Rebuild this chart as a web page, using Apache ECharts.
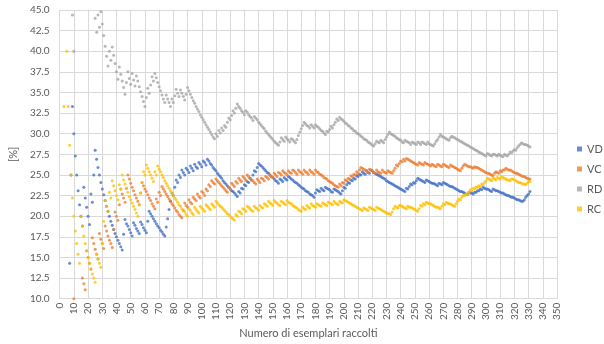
<!DOCTYPE html>
<html><head><meta charset="utf-8">
<script src="https://cdn.jsdelivr.net/npm/echarts@6.0.0/dist/echarts.min.js"></script>
<style>html,body{margin:0;padding:0;background:#fff}#c{width:604px;height:344px}</style>
</head><body><div id="c"></div>
<script>
const seriesNames = ['VD', 'VC', 'RD', 'RC'];
const seriesColors = ['#4472C4', '#ED7D31', '#A5A5A5', '#FFC000'];
const xTicks = {min: 0, max: 350, step: 10};
const yTicks = {min: 10, max: 45, step: 2.5};

const VD = [0,0,0,0,0,0,14.3,25,33.3,30,
27.3,25,23.1,21.4,20,18.8,23.5,22.2,21.1,20,
19,22.7,21.7,25,28,26.9,25.9,25,24.1,23.3,
22.6,21.9,21.2,20.6,20,19.4,18.9,18.4,17.9,17.5,
17.1,16.7,16.3,15.9,17.8,19.6,19.1,18.8,18.4,18,
17.6,19.2,18.9,18.5,18.2,17.9,19.3,19,18.6,18.3,
18,19.4,20.6,20.3,20,19.7,19.4,19.1,18.8,18.6,
18.3,18.1,17.8,17.6,18.7,19.7,20.8,21.8,22.8,22.5,
23.5,24.4,24.1,25,24.7,25.6,25.3,25,25.8,25.6,
25.3,26.1,25.8,25.5,26.3,26,25.8,26.5,26.3,26,
26.7,26.5,26.2,26.9,26.7,26.4,26.2,25.9,25.7,25.5,
25.2,25,24.8,24.6,24.3,24.1,23.9,23.7,23.5,23.3,
23.1,23,22.8,22.6,22.4,23,22.8,23.4,23.3,23.8,
23.7,24.2,24.1,24.6,24.4,25,25.5,25.4,25.9,26.4,
26.2,26.1,25.9,25.7,25.5,25.3,25.2,25,24.8,24.7,
24.5,24.3,24.2,24,24.5,24.4,24.2,24.7,24.5,24.4,
24.8,24.7,24.5,24.4,24.2,24.1,24,23.8,23.7,23.5,
23.4,23.3,23.1,23,22.9,22.7,22.6,22.5,22.3,22.8,
23.2,23.1,23,23.4,23.2,23.1,23.5,23.4,23.3,23.2,
23,22.9,23.3,23.2,23.1,23,22.8,22.7,23.1,23.5,
23.4,23.8,24.1,24,24.4,24.3,24.6,24.5,24.9,24.8,
25.1,25,25.4,25.2,25.1,25.5,25.3,25.2,25.6,25.5,
25.3,25.2,25.1,25,24.9,24.8,24.7,24.6,24.5,24.3,
24.2,24.1,24,23.9,23.8,23.7,23.6,23.5,23.4,23.3,
23.2,23.1,23,23.4,23.3,23.6,23.9,23.8,24.1,24,
24.3,24.6,24.5,24.4,24.3,24.2,24.1,24.4,24.3,24.2,
24.1,24,24,23.9,23.8,23.7,24,23.9,23.8,24.1,
24,23.9,23.8,23.7,23.6,23.6,23.5,23.4,23.3,23.2,
23.1,23,23,22.9,22.8,22.7,22.6,22.9,22.8,22.8,
22.7,22.9,22.9,23.1,23.1,23.3,23.2,23.5,23.4,23.3,
23.3,23.2,23.1,23,23.3,23.2,23.1,23.1,23,22.9,
22.8,22.8,22.7,22.6,22.5,22.5,22.4,22.3,22.3,22.2,
22.1,22,22,21.9,21.8,21.8,22,22.3,22.5,22.7,
23];

const VC = [0,0,0,0,0,0,0,0,0,10,
9.1,8.3,7.7,7.1,6.7,12.5,11.8,11.1,15.8,15,
14.3,13.6,17.4,16.7,16,15.4,14.8,17.9,17.2,16.7,
16.1,18.8,18.2,17.6,17.1,16.7,16.2,18.4,20.5,20,
19.5,21.4,23.3,22.7,22.2,21.7,23.4,25,24.5,24,
23.5,23.1,22.6,22.2,21.8,21.4,22.8,24.1,23.7,23.3,
23,22.6,22.2,21.9,21.5,21.2,20.9,22.1,21.7,22.9,
22.5,23.6,23.3,23,22.7,22.4,22.1,21.8,21.5,21.3,
21,20.7,20.5,20.2,20,19.8,20.7,21.6,21.3,21.1,
22,21.7,21.5,22.3,22.1,21.9,22.7,22.4,22.2,23,
22.8,22.5,23.3,23.1,23.8,23.6,24.3,24.1,23.9,24.5,
24.3,24.1,23.9,23.7,23.5,23.3,23.1,22.9,23.5,23.3,
24,23.8,23.6,24.2,24,24.6,24.4,24.2,24.8,24.6,
24.4,25,24.8,24.6,24.4,24.3,24.1,23.9,24.5,24.3,
24.1,24.6,24.5,24.3,24.8,24.7,24.5,25,24.8,24.7,
25.2,25,24.8,25.3,25.2,25,25.5,25.3,25.2,25,
25.5,25.3,25.2,25.6,25.5,25.3,25.1,25.6,25.4,25.3,
25.1,25.6,25.4,25.3,25.1,25.6,25.4,25.3,25.1,25.6,
25.4,25.3,25.1,25,24.9,24.7,24.6,24.5,24.3,24.2,
24.1,24,23.8,23.7,23.6,23.5,23.9,23.7,24.1,24,
24.4,24.3,24.6,24.5,24.9,24.8,25.1,25,25.4,25.2,
25.6,25.9,25.8,25.7,25.6,25.5,25.3,25.7,25.6,25.5,
25.3,25.2,25.6,25.4,25.3,25.2,25.6,25.4,25.3,25.2,
25.5,25.4,25.3,25.2,25.5,25.8,26.2,26.1,26.4,26.7,
26.6,26.9,26.7,27,26.9,26.8,26.7,26.6,26.5,26.4,
26.3,26.2,26.5,26.4,26.3,26.2,26.5,26.4,26.3,26.2,
26.1,26.3,26.2,26.1,26,26.3,26.2,26.1,26,26.3,
26.2,26.1,26,25.9,26.2,26.1,26,25.9,25.8,25.7,
25.6,25.5,25.8,26.1,26.3,26.2,26.1,26,26,25.9,
25.8,26,25.9,25.9,25.8,25.7,25.6,25.5,25.4,25.3,
25.2,25.2,25.1,25,24.9,25.2,25.4,25.3,25.2,25.5,
25.4,25.6,25.6,25.8,25.7,25.6,25.6,25.5,25.4,25.3,
25.2,25.2,25.1,25,24.9,24.8,24.8,24.7,24.6,24.5,
24.5];

const RD = [100,100,66.7,50,60,66.7,57.1,50,44.4,40,
45.5,50,53.8,57.1,53.3,50,47.1,50,47.4,50,
52.4,50,47.8,45.8,44,42.3,44.4,42.9,44.8,43.3,
41.9,40.6,39.4,38.2,40,38.9,40.5,39.5,38.5,37.5,
36.6,38.1,37.2,36.4,35.6,34.8,36.2,37.5,36.7,36,
37.3,36.5,35.8,37,36.4,35.7,35.1,34.5,33.9,33.3,
34.4,35.5,34.9,35.9,36.9,36.4,37.3,36.8,36.2,35.7,
35.2,34.7,34.2,33.8,34.7,34.2,33.8,33.3,34.2,33.8,
34.6,35.4,34.9,34.5,35.3,34.9,34.5,34.1,34.8,35.6,
35.2,34.8,34.4,34,33.7,33.3,33,32.7,32.3,32,
31.7,31.4,31.1,30.8,30.5,30.2,29.9,29.6,29.4,30,
29.7,30.4,30.1,30.7,30.4,31,30.8,31.4,31.9,31.7,
32.2,32.8,32.5,33.1,33.6,33.3,33.1,32.8,32.6,32.3,
32.8,32.6,32.3,32.1,31.9,31.6,32.1,31.9,31.7,31.4,
31.2,31,30.8,30.6,30.3,30.1,29.9,29.7,29.5,29.3,
29.1,28.9,28.8,28.6,29,29.5,29.3,29.1,29.6,29.4,
29.2,29,29.4,29.3,29.1,28.9,29.3,29.8,30.2,30.6,
31,31.4,31.2,31,30.9,30.7,31.1,30.9,30.7,31.1,
30.9,30.8,30.6,30.4,30.3,30.1,29.9,30.3,30.2,30.5,
30.9,30.7,31.1,31.4,31.8,31.6,32,31.8,31.7,31.5,
31.3,31.2,31,30.9,30.7,30.6,30.4,30.3,30.1,30,
29.9,29.7,29.6,29.4,29.3,29.2,29,28.9,28.8,28.6,
28.5,28.8,29.1,29,28.9,29.2,29.1,28.9,29.3,29.6,
29.9,30.2,30,29.9,29.8,29.7,29.5,29.4,29.3,29.2,
29,28.9,29.2,29.1,29,28.9,28.7,29,28.9,28.8,
28.7,29,28.9,28.7,29,28.9,28.8,28.7,29,28.8,
28.7,28.6,28.5,28.8,29.1,29.3,29.6,29.9,29.7,29.6,
29.5,29.4,29.3,29.2,29.5,29.7,29.6,29.5,29.4,29.3,
29.2,29.1,29,28.9,28.8,28.7,28.6,28.5,28.4,28.3,
28.2,28.1,28,27.9,27.8,27.7,27.6,27.5,27.4,27.3,
27.6,27.5,27.4,27.3,27.5,27.5,27.4,27.3,27.5,27.4,
27.3,27.2,27.5,27.4,27.3,27.5,27.8,27.7,27.9,28.1,
28,28.3,28.5,28.7,28.9,28.8,28.7,28.7,28.6,28.5,
28.4];

const RC = [0,0,33.3,50,40,33.3,28.6,25,22.2,20,
18.2,16.7,15.4,14.3,20,18.8,17.6,16.7,15.8,15,
14.3,13.6,13,12.5,12,15.4,14.8,14.3,13.8,16.7,
19.4,21.9,21.2,20.6,22.9,22.2,24.3,23.7,23.1,22.5,
22,23.8,23.3,25,24.4,23.9,23.4,22.9,22.4,22,
21.6,21.2,20.8,20.4,20,21.4,22.8,24.1,25.4,25,
26.2,25.8,25.4,25,24.6,24.2,25.4,25,26.1,25.7,
25.4,25,24.7,24.3,24,23.7,23.4,23.1,22.8,22.5,
22.2,22,21.7,21.4,21.2,20.9,20.7,20.5,20.2,20,
20.9,20.7,20.4,20.2,21.1,20.8,20.6,20.4,21.2,21,
20.8,20.6,21.4,21.2,21,20.8,21.5,21.3,21.1,21.8,
21.6,21.4,21.2,21.1,20.9,20.7,20.5,20.3,20.2,20,
19.8,19.7,19.5,20.2,20,20.6,20.5,20.3,20.9,20.8,
20.6,21.2,21.1,20.9,20.7,20.6,21.2,21,20.9,20.7,
21.3,21.1,21,21.5,21.4,21.2,21.8,21.6,21.5,21.3,
21.9,21.7,21.6,21.4,21.3,21.8,21.7,21.5,21.4,21.9,
21.7,21.6,21.5,21.3,21.2,21.1,21,20.8,20.7,20.6,
21.1,20.9,20.8,21.3,21.1,21,21.5,21.3,21.2,21.1,
21.5,21.4,21.3,21.2,21.6,21.5,21.4,21.3,21.7,21.6,
21.5,21.4,21.8,21.6,21.5,21.4,21.8,21.7,21.6,22,
21.9,21.8,21.7,21.6,21.5,21.4,21.3,21.2,21.1,21,
20.9,20.8,20.7,21,20.9,20.8,20.7,21.1,21,20.9,
20.8,20.7,21.1,21,20.9,20.8,20.7,20.6,20.5,20.4,
20.3,20.3,20.2,20.5,20.9,21.2,21.1,21,21.3,21.3,
21.2,21.1,21,20.9,21.2,21.1,21.1,21,20.9,20.8,
20.7,20.6,20.9,21.3,21.2,21.5,21.4,21.7,21.6,21.5,
21.5,21.4,21.3,21.2,21.1,21.1,21,20.9,21.2,21.5,
21.4,21.7,21.6,21.5,21.5,21.4,21.3,21.2,21.5,21.8,
22.1,22,22.3,22.5,22.5,22.7,22.6,22.9,23.2,23.1,
23.4,23.3,23.5,23.5,23.7,23.6,23.9,23.8,24.1,24.3,
24.6,24.5,24.4,24.3,24.6,24.5,24.4,24.7,24.6,24.5,
24.8,24.7,24.6,24.5,24.4,24.4,24.3,24.5,24.5,24.4,
24.3,24.2,24.1,24.1,24,23.9,23.9,23.8,24,24.2,
24.2];

const seriesValues = [VD, VC, RD, RC];

const textColor = '#595959';
const gridColor = '#D9D9D9';
const font = 'Lato, "Open Sans", sans-serif';

const chart = echarts.init(document.getElementById('c'), null, {renderer: 'canvas'});
chart.setOption({
  animation: false,
  backgroundColor: '#ffffff',
  textStyle: {fontFamily: font},
  grid: {left: 58, right: 47, top: 10, bottom: 42, containLabel: false},
  legend: {
    orient: 'vertical', left: 572, top: 137,
    icon: 'rect', itemWidth: 5, itemHeight: 5, itemGap: 6,
    textStyle: {fontSize: 11, color: textColor, lineHeight: 14, fontFamily: font},
    data: seriesNames
  },
  xAxis: {
    type: 'value', min: xTicks.min, max: xTicks.max, interval: xTicks.step,
    name: 'Numero di esemplari raccolti', nameLocation: 'middle', nameGap: 24,
    nameTextStyle: {fontSize: 11, color: textColor, fontFamily: font},
    axisLine: {show: true, lineStyle: {color: gridColor}},
    axisTick: {show: false},
    axisLabel: {rotate: 90, fontSize: 10, color: textColor, margin: 4, fontFamily: font},
    splitLine: {show: true, lineStyle: {color: gridColor, width: 1}}
  },
  yAxis: {
    type: 'value', min: yTicks.min, max: yTicks.max, interval: yTicks.step,
    name: '[%]', nameLocation: 'middle', nameGap: 40, nameRotate: 90,
    nameTextStyle: {fontSize: 11, color: textColor, fontFamily: font},
    axisLine: {show: false},
    axisTick: {show: false},
    axisLabel: {fontSize: 10, color: textColor, margin: 10, fontFamily: font,
      formatter: v => v.toFixed(1)},
    splitLine: {show: true, lineStyle: {color: gridColor, width: 1}}
  },
  series: seriesNames.map((name, si) => ({
    name: name,
    type: 'scatter',
    symbol: 'circle',
    symbolSize: 3,
    clip: true,
    itemStyle: {color: seriesColors[si]},
    data: seriesValues[si].map((v, i) => [i + 1, v])
  }))
});
</script>
</body></html>
